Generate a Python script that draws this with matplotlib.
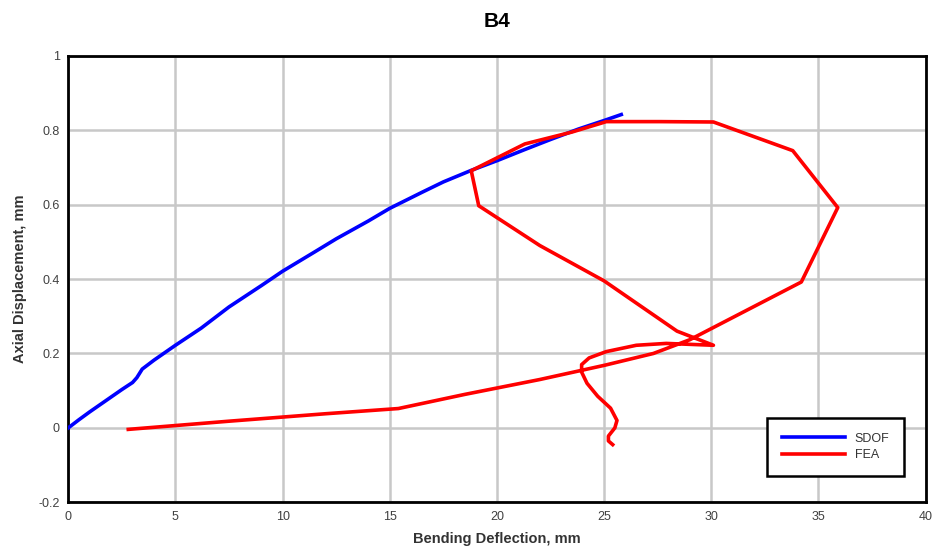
import numpy as np
import matplotlib.pyplot as plt

plt.rcParams['font.family'] = ['Liberation Sans', 'DejaVu Sans']

# SDOF response (bending deflection, axial displacement)
sdof_x = [0, 0.5, 1, 1.5, 2, 2.5, 3.0, 3.2, 3.45, 4, 5, 6.2, 7.5, 9, 10, 11.5, 12.5, 14, 15,
          16.5, 17.5, 18.8, 20, 21.3, 22.5, 23.8, 25, 25.8]
sdof_y = [0, 0.022, 0.043, 0.063, 0.083, 0.103, 0.122, 0.135, 0.158, 0.182, 0.222, 0.268, 0.325,
          0.382, 0.421, 0.473, 0.508, 0.556, 0.59, 0.633, 0.661, 0.692, 0.718, 0.748, 0.775,
          0.803, 0.826, 0.842]

# FEA response
fea_x = [2.8, 7.5, 12, 15.4, 18.5, 22.0, 25.0, 27.3, 29.0, 34.2, 35.9, 33.8, 30.1, 27.6,
         25.1, 23.5, 21.3, 18.8, 19.15, 22.0, 25.0, 28.4, 30.1, 27.9, 26.5, 25.1, 24.3,
         23.95, 23.95, 24.2, 24.7, 25.3, 25.6, 25.5, 25.2, 25.2, 25.4]
fea_y = [-0.004, 0.018, 0.038, 0.052, 0.09, 0.13, 0.168, 0.2, 0.237, 0.392, 0.592, 0.745,
         0.822, 0.823, 0.823, 0.795, 0.763, 0.691, 0.597, 0.49, 0.395, 0.26, 0.222, 0.227,
         0.222, 0.205, 0.188, 0.17, 0.15, 0.12, 0.085, 0.053, 0.02, 0.0, -0.022, -0.035, -0.045]

fig = plt.figure(figsize=(9.35, 5.52), dpi=100)
ax = fig.add_axes([0.073, 0.090, 0.917, 0.809])

ax.plot(sdof_x, sdof_y, color="#0000ff", lw=2.6, label="SDOF", zorder=3)
ax.plot(fea_x, fea_y, color="#ff0000", lw=2.6, label="FEA", zorder=4)

ax.set_xlim(0, 40)
ax.set_ylim(-0.2, 1)
ax.set_xticks(np.arange(0, 41, 5))
ax.set_yticks([-0.2, 0, 0.2, 0.4, 0.6, 0.8, 1])
ax.set_yticklabels(["-0.2", "0", "0.2", "0.4", "0.6", "0.8", "1"])
ax.grid(True, color="#c8c8c8", lw=1.8)
ax.set_axisbelow(True)
ax.tick_params(length=0, labelsize=9, labelcolor="#404040", pad=6)
for s in ax.spines.values():
    s.set_linewidth(2)
    s.set_color("black")

ax.set_title("B4", fontsize=15, fontweight="bold", pad=21)
ax.set_xlabel("Bending Deflection, mm", fontsize=10.5, fontweight="bold", color="#333333", labelpad=7)
ax.set_ylabel("Axial Displacement, mm", fontsize=10.5, fontweight="bold", color="#333333", labelpad=8)

leg = ax.legend(loc="lower right", bbox_to_anchor=(0.9825, 0.045), fancybox=False,
                framealpha=1, edgecolor="black", fontsize=9, handlelength=5.0,
                borderpad=1.2, labelspacing=0.35, handletextpad=0.8)
leg.get_frame().set_linewidth(1.8)
for t in leg.get_texts():
    t.set_color("#333333")

fig.savefig("out.png", dpi=100)
